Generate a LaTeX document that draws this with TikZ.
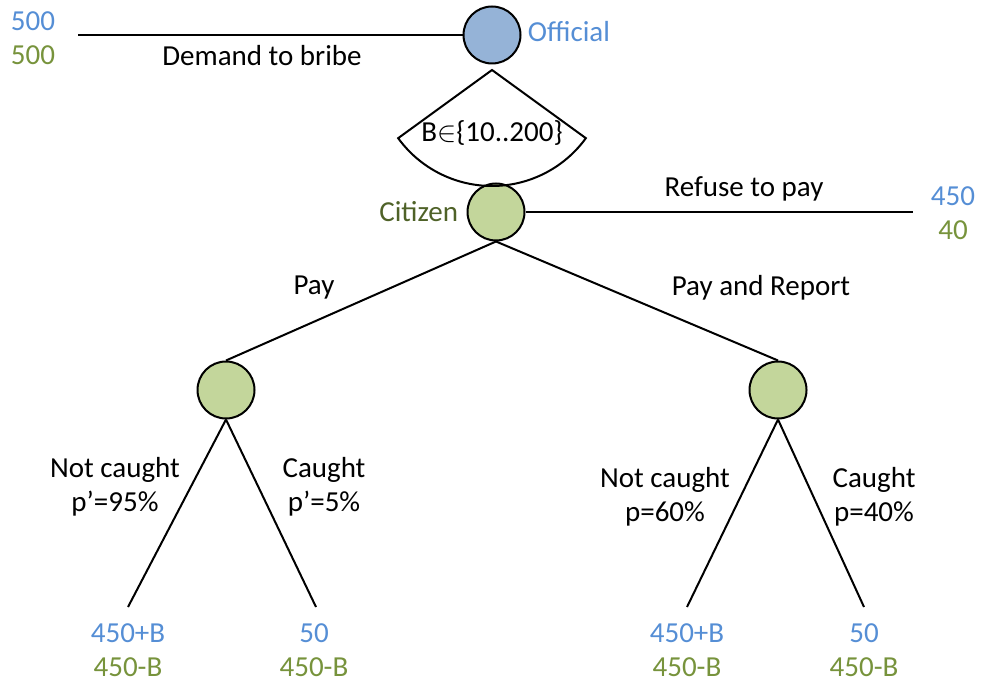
\documentclass[tikz,border=0pt]{standalone}
\usepackage{fontspec}
\setmainfont{Carlito}
\usetikzlibrary{calc}
\usetikzlibrary{positioning}

\definecolor{offblue}{RGB}{85,142,213}
\definecolor{offfill}{RGB}{149,179,215}
\definecolor{citgreen}{RGB}{119,147,60}
\definecolor{citdark}{RGB}{79,98,40}
\definecolor{citfill}{RGB}{195,214,155}

\tikzset{
  player/.style={circle, draw=black, line width=1pt, minimum size=28.5pt, inner sep=0},
  move/.style={black, line width=1pt},
  payoff/.style={align=center, inner sep=0},
  lbl/.style={align=center, inner sep=0, text=black},
}

\begin{document}
\begin{tikzpicture} [x=0.5pt, y=0.5pt, font=\fontsize{14.5}{17}\selectfont]
\useasboundingbox (0,0) rectangle (983,685);
% decision nodes
\node[player, fill=offfill] (off) at (492,650) {};
\node[player, fill=citfill] (cit) at (496,473) {};
\node[player, fill=citfill] (pay) at (226,295) {};
\node[player, fill=citfill] (rep) at (778,295) {};
\node[right=3pt of off, text=offblue, inner sep=0, yshift=1.5pt] (offname) {Official};
\node[left=4pt of cit, text=citdark, inner sep=0] (citname) {Citizen};
% bribe choice
\coordinate (apex) at (492,615);
\draw[move] (apex) -- ++(216:116) arc (216:324:116) -- cycle;
\node[lbl] (bset) at (492,552) {B$\in$\{10..200\}};
% ends of the moves
\coordinate (dend) at (78,650);
\coordinate (rend) at (913,473);
\foreach \n/\x in {a/128, b/316, c/687, d/864} {
 \coordinate (leaf\n) at (\x,78);
}
\draw[move] (off) -- (dend);
\draw[move] (cit) -- (rend);
\draw[move] (cit.south) -- (pay.north);
\draw[move] (cit.south) -- (rep.north);
\draw[move] (pay.south) -- (leafa);
\draw[move] (pay.south) -- (leafb);
\draw[move] (rep.south) -- (leafc);
\draw[move] (rep.south) -- (leafd);
% move labels
\node[lbl] (ldemand) at (262,629) {Demand to bribe};
\node[lbl] (lrefuse) at (744,496) {Refuse to pay};
\node[lbl] (lpay) at (314,397) {Pay};
\node[lbl] (lreport) at (761,397) {Pay and Report};
\node[lbl] (lnot1) at (115,198) {Not caught\\p’=95\%};
\node[lbl] (lcau1) at (324,198) {Caught\\p’=5\%};
\node[lbl] (lnot2) at (665,188) {Not caught\\p=60\%};
\node[lbl] (lcau2) at (874,188) {Caught\\p=40\%};
% payoffs
\node[payoff] (p0) at (33,647) {{\color{offblue}500}\\{\color{citgreen}500}};
\node[payoff] (p1) at (953,472) {{\color{offblue}450}\\{\color{citgreen}40}};
\node[payoff] (p2) at (128,35) {{\color{offblue}450+B}\\{\color{citgreen}450-B}};
\node[payoff] (p3) at (314,35) {{\color{offblue}50}\\{\color{citgreen}450-B}};
\node[payoff] (p4) at (687,35) {{\color{offblue}450+B}\\{\color{citgreen}450-B}};
\node[payoff] (p5) at (864,35) {{\color{offblue}50}\\{\color{citgreen}450-B}};
\end{tikzpicture}
\end{document}
